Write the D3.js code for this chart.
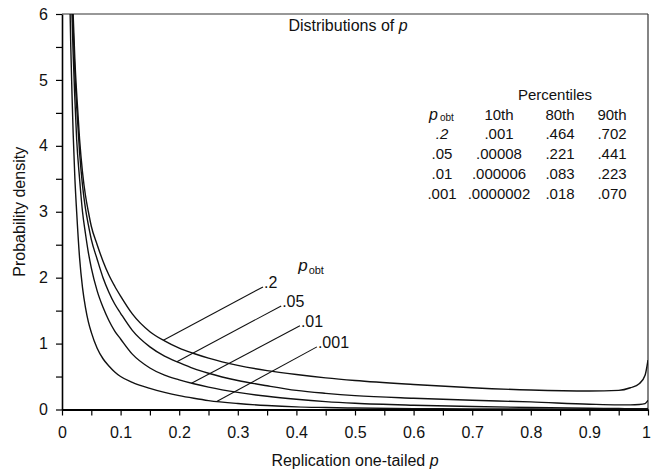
<!DOCTYPE html>
<html>
<head>
<meta charset="utf-8">
<script src="https://cdn.jsdelivr.net/npm/d3@7"></script>
<style>
  body { margin: 0; background: #fff; }
  svg { font-family: "Liberation Sans", Arial, sans-serif; }
</style>
</head>
<body>
<script>
// replication p grid and densities
const pGrid = [0.011, 0.013, 0.015, 0.017, 0.019, 0.022, 0.025, 0.03, 0.035, 0.04, 0.045, 0.05,
  0.06, 0.07, 0.08, 0.09, 0.1, 0.12, 0.15, 0.175, 0.2, 0.225, 0.25, 0.3, 0.35, 0.4, 0.45, 0.5,
  0.6, 0.7, 0.8, 0.9, 0.95, 0.97, 0.985, 0.995, 1.0];

const dens_2 = [9, 8, 7.2, 6.6, 6.0, 5.3, 4.8, 4.1, 3.6, 3.25, 3.0, 2.78,
  2.5, 2.25, 2.04, 1.87, 1.72, 1.45, 1.18, 1.04, 0.93, 0.85, 0.78, 0.67, 0.59, 0.53, 0.48, 0.44,
  0.38, 0.33, 0.295, 0.28, 0.29, 0.33, 0.39, 0.52, 0.75];
const dens_05 = [9, 7.8, 7.0, 6.3, 5.8, 5.1, 4.6, 3.9, 3.4, 3.05, 2.8, 2.58,
  2.28, 2.0, 1.78, 1.6, 1.46, 1.2, 0.95, 0.81, 0.71, 0.62, 0.55, 0.44, 0.36, 0.29, 0.245, 0.21,
  0.17, 0.14, 0.115, 0.08, 0.07, 0.07, 0.075, 0.09, 0.14];
const dens_01 = [8.5, 7.4, 6.6, 6.0, 5.4, 4.7, 4.1, 3.5, 3.0, 2.67, 2.38, 2.15,
  1.8, 1.55, 1.35, 1.19, 1.07, 0.84, 0.63, 0.52, 0.45, 0.39, 0.34, 0.26, 0.2, 0.155, 0.12, 0.095,
  0.065, 0.045, 0.03, 0.02, 0.015, 0.013, 0.012, 0.012, 0.015];
const dens_001 = [7.6, 6.4, 5.5, 4.8, 4.2, 3.5, 3.0, 2.3, 1.85, 1.55, 1.33, 1.17,
  0.93, 0.77, 0.66, 0.57, 0.5, 0.41, 0.32, 0.26, 0.21, 0.17, 0.135, 0.09, 0.06, 0.04, 0.03, 0.022,
  0.014, 0.01, 0.007, 0.005, 0.004, 0.004, 0.004, 0.004, 0.004];

const seriesNames = [".2", ".05", ".01", ".001"];
const seriesDens = [dens_2, dens_05, dens_01, dens_001];
// where each label's leader line meets its curve, and where the label sits (data units)
const leaderP = [0.173, 0.196, 0.221, 0.264];
const labelP = [0.343, 0.374, 0.406, 0.435];
const labelD = [1.86, 1.57, 1.27, 0.95];

// percentile table
const tableCols = ["10th", "80th", "90th"];
const tableRows = [
  [".2", ".001", ".464", ".702"],
  [".05", ".00008", ".221", ".441"],
  [".01", ".000006", ".083", ".223"],
  [".001", ".0000002", ".018", ".070"]
];

const xTicks = d3.range(0, 1.0001, 0.05);
const xLabels = ["0", "0.1", "0.2", "0.3", "0.4", "0.5", "0.6", "0.7", "0.8", "0.9", "1"];
const yTicks = d3.range(0, 6.0001, 0.5);

const W = 651, H = 471;
const margin = { top: 14, right: 3, bottom: 61.5, left: 62 };

const svg = d3.select("body").append("svg")
  .attr("width", W).attr("height", H);

const x = d3.scaleLinear().domain([0, 1]).range([margin.left, W - margin.right]);
const y = d3.scaleLinear().domain([0, 6]).range([H - margin.bottom, margin.top]);

svg.append("clipPath").attr("id", "clip")
  .append("rect")
  .attr("x", x(0)).attr("y", y(6))
  .attr("width", x(1) - x(0)).attr("height", y(0) - y(6));

// frame (top and right)
svg.append("line").attr("x1", x(0)).attr("x2", x(1)).attr("y1", y(6)).attr("y2", y(6))
  .attr("stroke", "#333").attr("stroke-width", 1.2);
svg.append("line").attr("x1", x(1)).attr("x2", x(1)).attr("y1", y(6)).attr("y2", y(0))
  .attr("stroke", "#333").attr("stroke-width", 1.2);

// axes
const xAxis = svg.append("g")
  .attr("transform", `translate(0,${y(0)})`)
  .call(d3.axisBottom(x).tickValues(xTicks).tickSize(6).tickSizeOuter(0)
    .tickFormat((d, i) => (i % 2 === 0 ? xLabels[i / 2] : "")));
xAxis.select(".domain").attr("stroke-width", 2);
xAxis.selectAll("text").attr("font-size", 16).attr("fill", "#111").attr("dy", "1.2em");
xAxis.selectAll(".tick:last-of-type text").attr("dx", -2);

const yAxis = svg.append("g")
  .attr("transform", `translate(${x(0)},0)`)
  .call(d3.axisLeft(y).tickValues(yTicks).tickSize(6).tickSizeOuter(0)
    .tickFormat(d => (Number.isInteger(d) ? d : "")));
yAxis.select(".domain").attr("stroke-width", 1.6);
yAxis.selectAll("text").attr("font-size", 16).attr("fill", "#111").attr("x", -14);
svg.selectAll(".tick line").attr("stroke-width", 1.2);

// curves
const line = d3.line()
  .x(d => x(d[0]))
  .y(d => y(d[1]))
  .curve(d3.curveMonotoneX);

const plot = svg.append("g").attr("clip-path", "url(#clip)");
seriesDens.forEach(dens => {
  plot.append("path")
    .datum(pGrid.map((p, i) => [p, dens[i]]))
    .attr("fill", "none")
    .attr("stroke", "#111")
    .attr("stroke-width", 1.4)
    .attr("d", line);
});

// leader lines and labels
function densAt(dens, p) {
  const i = d3.bisectRight(pGrid, p) - 1;
  const t = (p - pGrid[i]) / (pGrid[i + 1] - pGrid[i]);
  return dens[i] + t * (dens[i + 1] - dens[i]);
}
seriesNames.forEach((name, i) => {
  svg.append("line")
    .attr("x1", x(leaderP[i])).attr("y1", y(densAt(seriesDens[i], leaderP[i])))
    .attr("x2", x(labelP[i])).attr("y2", y(labelD[i]))
    .attr("stroke", "#111").attr("stroke-width", 1.1);
  svg.append("text")
    .attr("x", x(labelP[i]) + 1).attr("y", y(labelD[i]) + 1)
    .attr("font-size", 16)
    .attr("fill", "#111")
    .text(name);
});

const pobt = svg.append("text")
  .attr("x", x(0.403)).attr("y", y(2.1))
  .attr("font-size", 16).attr("fill", "#111");
pobt.append("tspan").attr("font-style", "italic").attr("font-size", 17).text("p");
pobt.append("tspan").attr("font-size", 11).attr("dx", 1).attr("dy", 3).text("obt");

// title
const title = svg.append("text")
  .attr("x", 348).attr("y", 31)
  .attr("text-anchor", "middle")
  .attr("font-size", 16).attr("fill", "#111");
title.append("tspan").text("Distributions of ");
title.append("tspan").attr("font-style", "italic").text("p");

// table
const colX = [442, 499, 560, 612];
const table = svg.append("g").attr("font-size", 15).attr("fill", "#111");
table.append("text").attr("x", 555).attr("y", 100).attr("text-anchor", "middle").text("Percentiles");
const hdr = table.append("text").attr("x", 429).attr("y", 120);
hdr.append("tspan").attr("font-style", "italic").attr("font-size", 16).text("p");
hdr.append("tspan").attr("font-size", 10).attr("dx", 2).attr("dy", 1).text("obt");
tableCols.forEach((c, j) => {
  table.append("text").attr("x", colX[j + 1]).attr("y", 120).attr("text-anchor", "middle").text(c);
});
tableRows.forEach((row, r) => {
  row.forEach((v, j) => {
    table.append("text")
      .attr("x", colX[j]).attr("y", 139 + r * 20)
      .attr("text-anchor", "middle")
      .attr("font-style", r === 0 && j === 0 ? "italic" : null)
      .text(v);
  });
});

// axis titles
const xt = svg.append("text")
  .attr("x", x(0.5)).attr("y", 466)
  .attr("text-anchor", "middle")
  .attr("font-size", 16).attr("fill", "#111");
xt.append("tspan").text("Replication one-tailed ");
xt.append("tspan").attr("font-style", "italic").text("p");

svg.append("text")
  .attr("transform", `translate(25,${y(3)}) rotate(-90)`)
  .attr("text-anchor", "middle")
  .attr("font-size", 16).attr("fill", "#111")
  .text("Probability density");
</script>
</body>
</html>
